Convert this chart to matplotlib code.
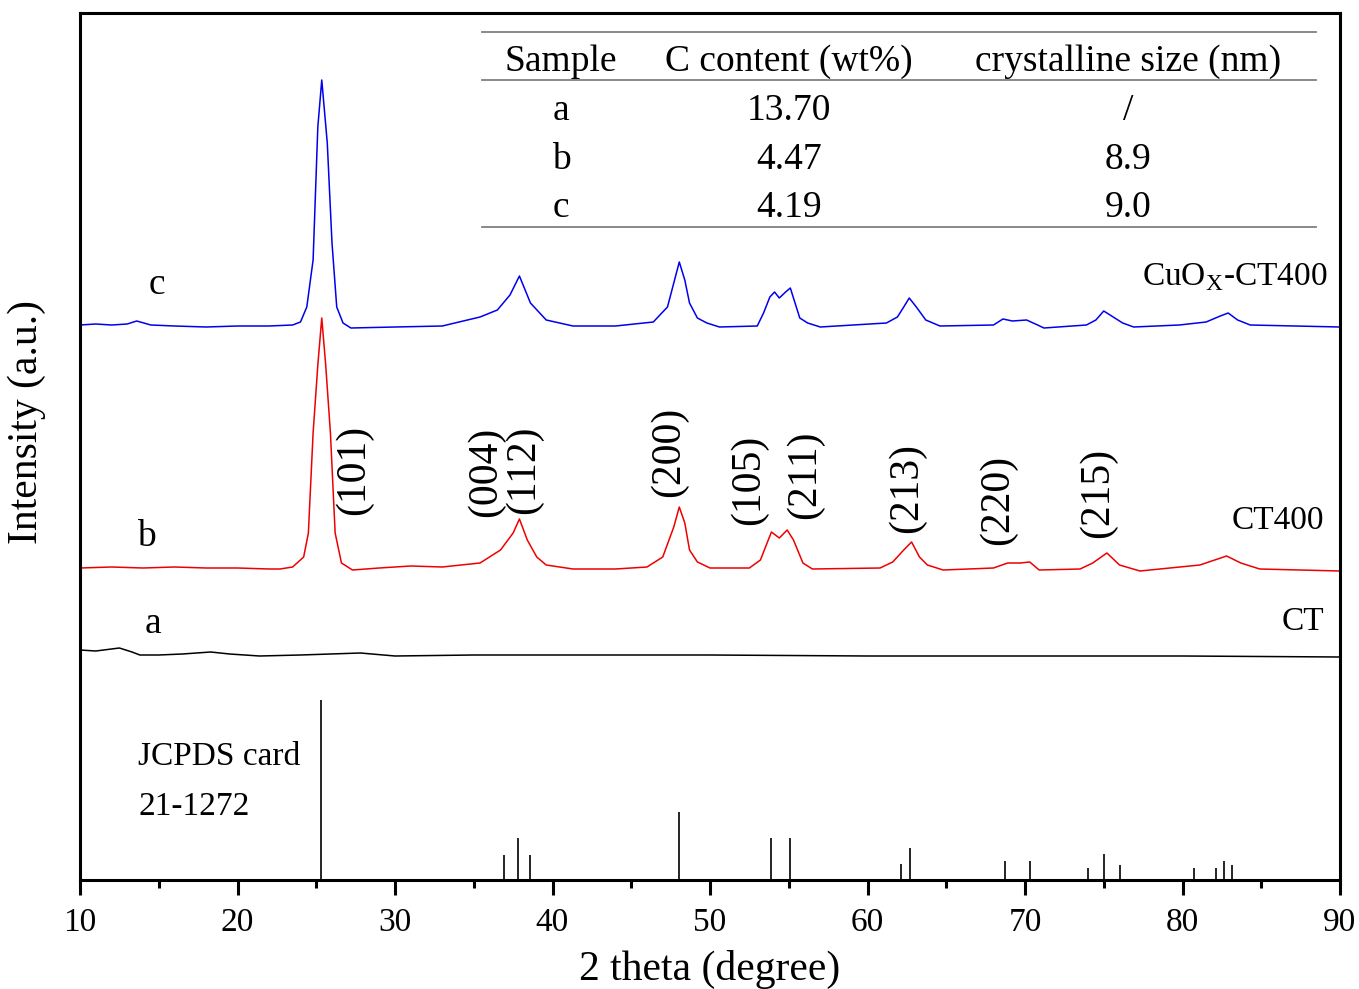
import numpy as np
import matplotlib
matplotlib.use("Agg")
import matplotlib.pyplot as plt

plt.rcParams['font.family'] = ['Liberation Serif', 'DejaVu Serif']
plt.rcParams['mathtext.fontset'] = 'custom'
plt.rcParams['mathtext.rm'] = 'Liberation Serif'

# curve c : CuOx-CT400 (intensity in arbitrary units)
x_c = [10, 11, 12, 13, 13.6, 14.5, 16, 18, 20, 22, 23.5, 24.0, 24.4, 24.8, 25.1, 25.35,
       25.7, 26.0, 26.3, 26.7, 27.2, 30, 33, 35.4, 36.5, 37.3, 37.9, 38.6, 39.6, 41.3,
       44, 46.4, 47.3, 47.8, 48.05, 48.4, 48.7, 49.2, 49.8, 50.6, 53.0, 53.4, 53.8, 54.1,
       54.4, 54.8, 55.1, 55.4, 55.7, 56.2, 57.0, 61.2, 61.9, 62.3, 62.65, 63.1, 63.7, 64.6,
       68.0, 68.6, 69.2, 70.1, 70.8, 71.2, 73.9, 74.5, 75.0, 75.6, 76.2, 76.9, 79.8, 81.5,
       82.4, 82.9, 83.5, 84.3, 90]
y_c = [555, 556, 555, 556, 559, 555, 554, 553, 554, 554, 555, 558, 573, 620, 753, 800,
       737, 637, 573, 557, 552, 553, 554, 563, 570, 585, 604, 577, 560, 554,
       554, 558, 573, 603, 618, 600, 577, 562, 557, 553, 554, 567, 583, 588,
       582, 588, 592, 577, 562, 557, 553, 557, 563, 573, 582, 573, 560, 554,
       555, 561, 559, 560, 555, 552, 555, 560, 569, 563, 557, 553, 555, 558,
       564, 567, 560, 555, 553]

# curve b : CT400
x_b = [10, 12, 14, 16, 18, 20, 22, 22.7, 23.5, 24.2, 24.5, 24.8, 25.1, 25.35, 25.6, 25.9,
       26.2, 26.6, 27.3, 29, 31, 33, 35.4, 36.7, 37.5, 37.9, 38.4, 39.0, 39.6, 41.3, 44,
       46.0, 47.0, 47.7, 48.05, 48.4, 48.7, 49.2, 50.0, 52.5, 53.2, 53.9, 54.4, 54.9, 55.3,
       55.9, 56.5, 60.8, 61.6, 62.3, 62.8, 63.3, 63.8, 64.8, 68.0, 68.9, 69.7, 70.3, 70.9,
       73.5, 74.3, 75.2, 76.0, 77.3, 81.1, 82.8, 83.7, 84.9, 90]
y_b = [312, 313, 312, 313, 312, 312, 311, 311, 313, 323, 347, 447, 515, 562, 515, 447,
       347, 317, 310, 312, 314, 313, 317, 330, 347, 361, 340, 323, 315, 311, 311,
       313, 323, 353, 373, 357, 330, 318, 312, 312, 320, 348, 342, 350, 340,
       317, 311, 312, 318, 330, 338, 323, 315, 310, 312, 317, 317, 318, 310,
       311, 317, 327, 315, 309, 315, 324, 317, 311, 309]

# curve a : CT
x_a = [10, 11, 12, 12.5, 13.3, 13.8, 15, 16.5, 18.3, 19.5, 21.4, 24, 27.8, 30, 35, 40,
       50, 60, 70, 80, 90]
y_a = [230, 229, 231, 232, 228, 225, 225, 226, 228, 226, 224, 225, 227, 224, 225, 225,
       225, 224, 224, 224, 223]

# JCPDS card 21-1272 (anatase)
ref_pos = [25.3, 36.95, 37.8, 38.57, 48.05, 53.89, 55.06, 62.12, 62.69, 68.76, 70.3,
           74.03, 75.03, 76.02, 80.73, 82.14, 82.66, 83.15]
ref_int = [180, 25, 42, 25, 68, 42, 42, 16, 32, 19, 19, 12, 26, 15, 12, 12, 19, 15]

hkl_labels = ['(101)', '(004)', '(112)', '(200)', '(105)', '(211)', '(213)', '(220)', '(215)']
hkl_x = [27.4, 35.8, 38.2, 47.4, 52.5, 56.0, 62.5, 68.3, 74.6]
hkl_y = [410, 408, 410, 428, 400, 405, 392, 380, 387]

tab_header = ['Sample', 'C content (wt%)', 'crystalline size (nm)']
tab_sample = ['a', 'b', 'c']
tab_carbon = ['13.70', '4.47', '4.19']
tab_size = ['/', '8.9', '9.0']

fig = plt.figure(figsize=(13.59, 9.89), dpi=100)
ax = fig.add_axes([80/1359, 109/989, 1260/1359, 867/989])

ax.plot(x_c, y_c, color='#0000ee', lw=1.1)
ax.plot(x_b, y_b, color='#ee0000', lw=1.1)
ax.plot(x_a, y_a, color='black', lw=1.1)
ax.vlines(ref_pos, 0, ref_int, color='black', lw=1.2)

ax.set_xlim(10, 90)
ax.set_ylim(0, 867)
ax.set_yticks([])
ax.set_xticks(np.arange(10, 91, 10))
ax.set_xticks(np.arange(15, 90, 10), minor=True)
ax.tick_params(axis='x', which='major', direction='out', length=11, width=2.2,
               labelsize=24, pad=8.5)
ax.tick_params(axis='x', which='minor', direction='out', length=6, width=2.2)
for s in ax.spines.values():
    s.set_linewidth(2.2)

ax.set_xlabel('2 theta (degree)', fontsize=30, labelpad=9)
ax.set_ylabel('Intensity (a.u.)', fontsize=30)
ax.yaxis.set_label_coords(-0.027, 0.528)

# sample labels
ax.text(14.9, 595, 'c', fontsize=27, ha='center', va='center')
ax.text(14.2, 343, 'b', fontsize=27, ha='center', va='center')
ax.text(14.6, 256, 'a', fontsize=27, ha='center', va='center')
ax.text(89.2, 603, r'CuO$_\mathregular{X}$-CT400', fontsize=24, ha='right', va='center')
ax.text(89.0, 359, 'CT400', fontsize=24, ha='right', va='center')
ax.text(89.0, 258, 'CT', fontsize=24, ha='right', va='center')

ax.text(13.7, 123, 'JCPDS card', fontsize=24, ha='left', va='center')
ax.text(13.7, 73, '21-1272', fontsize=24, ha='left', va='center')

for lab, xx, yy in zip(hkl_labels, hkl_x, hkl_y):
    ax.text(xx, yy, lab, fontsize=30, rotation=90, ha='center', va='center')

# inset table
tx0, tx1 = 35.53, 88.5
ax.plot([tx0, tx1], [848, 848], color='#808080', lw=1.3)
ax.plot([tx0, tx1], [800, 800], color='#808080', lw=1.3)
ax.plot([tx0, tx1], [653, 653], color='#808080', lw=1.3)
col_x = [40.55, 55.0, 76.56]
row_y = [769, 720, 672]
for cx, h in zip(col_x, tab_header):
    ax.text(cx, 818, h, fontsize=27, ha='center', va='center')
for i in range(3):
    ax.text(col_x[0], row_y[i], tab_sample[i], fontsize=27, ha='center', va='center')
    ax.text(col_x[1], row_y[i], tab_carbon[i], fontsize=27, ha='center', va='center')
    ax.text(col_x[2], row_y[i], tab_size[i], fontsize=27, ha='center', va='center')

fig.savefig('out.png', dpi=100)
